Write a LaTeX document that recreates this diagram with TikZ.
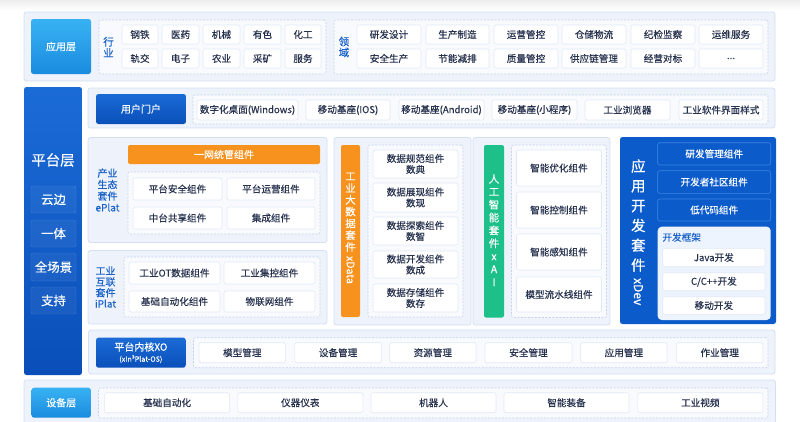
\documentclass[tikz,border=0pt]{standalone}
\usepackage{fontspec}
\setmainfont{Noto Sans CJK SC}[FakeBold=0.3]
\newfontfamily\heavyfont{Noto Sans CJK SC}[FakeBold=0.6]
\definecolor{panelfill}{HTML}{EEF3FB}
\definecolor{panelline}{HTML}{D3DFF3}
\definecolor{itemline}{HTML}{E1E9F6}
\definecolor{dashline}{HTML}{C6D3EA}
\definecolor{dashfill}{HTML}{F8FAFE}
\definecolor{txt}{HTML}{27324F}
\definecolor{lblue}{HTML}{1A62C9}
\definecolor{skyA}{HTML}{38B2F3}
\definecolor{skyB}{HTML}{1A8BDF}
\definecolor{navyA}{HTML}{1B6BD7}
\definecolor{navyB}{HTML}{0A4FB9}
\definecolor{orng}{HTML}{F7921E}
\definecolor{grn}{HTML}{1EC08A}
\definecolor{devblue}{HTML}{0C5BCB}
\definecolor{devline}{HTML}{3C84E5}
\definecolor{fwfill}{HTML}{EEF4FD}
\newcommand\bx[7]{\node[#6, minimum width={(#4)-(#2)}, minimum height={(#5)-(#3)}] (#1) at ({((#2)+(#4))/2},{((#3)+(#5))/2}) {#7};}
\newcommand\fs[2]{\fontsize{#1}{#2}\selectfont}
\tikzset{
  base/.style={inner sep=0pt, outer sep=0pt, align=center},
  panel/.style={base, draw=panelline, fill=panelfill, rounded corners=2.5pt, line width=0.8pt},
  dbox/.style={base, draw=dashline, fill=dashfill, dash pattern=on 2pt off 1.5pt, rounded corners=2pt, line width=0.6pt},
  item/.style={base, draw=itemline, fill=white, rounded corners=2pt, line width=0.6pt, text=txt, font=\fs{9.6}{11}},
  skybox/.style={base, rounded corners=2.5pt, top color=skyA, bottom color=skyB, text=white, font=\fs{10}{12}},
  navybox/.style={base, rounded corners=2.5pt, top color=navyA, bottom color=navyB, text=white, font=\fs{10}{12}},
  platcol/.style={base, rounded corners=2.5pt, top color=navyA, bottom color=navyB},
  platitem/.style={base, rounded corners=2pt, draw=white, draw opacity=0.18, fill=white, fill opacity=0.05, text opacity=1, text=white, font=\fs{12.4}{14}},
  lbl/.style={base, text=lblue, font=\fs{10.5}{11}},
  devitem/.style={base, rounded corners=2pt, draw=devline, fill=devblue, line width=0.6pt, text=white, font=\fs{9.6}{11}},
  vtext/.style={base, text=white},
}
\begin{document}
\begin{tikzpicture}[x=1pt, y=-1pt]
\useasboundingbox (0,0) rectangle (800,421);
\fill[top color=black!7, bottom color=white] (0,0) rectangle (800,10);
% ---------------- application layer
\bx{app}{24}{12}{775}{81}{panel}{}
\bx{appT}{31}{19}{91}{74}{skybox}{应用层}
\bx{indD}{99}{20}{326}{74}{dbox}{}
\node[lbl] (indL) at (108.5,47) {行\\业};
\bx{i1}{122}{25}{158}{44}{item}{钢铁}
\bx{i2}{162}{25}{199}{44}{item}{医药}
\bx{i3}{203}{25}{240}{44}{item}{机械}
\bx{i4}{244}{25}{281}{44}{item}{有色}
\bx{i5}{285}{25}{321}{44}{item}{化工}
\bx{i6}{122}{49}{158}{68}{item}{轨交}
\bx{i7}{162}{49}{199}{68}{item}{电子}
\bx{i8}{203}{49}{240}{68}{item}{农业}
\bx{i9}{244}{49}{281}{68}{item}{采矿}
\bx{i10}{285}{49}{321}{68}{item}{服务}
\bx{domD}{334}{20}{768}{74}{dbox}{}
\node[lbl] (domL) at (344,47) {领\\域};
\bx{d1}{357}{25}{421}{44}{item}{研发设计}
\bx{d2}{426}{25}{489}{44}{item}{生产制造}
\bx{d3}{494}{25}{558}{44}{item}{运营管控}
\bx{d4}{562}{25}{626}{44}{item}{仓储物流}
\bx{d5}{631}{25}{695}{44}{item}{纪检监察}
\bx{d6}{699}{25}{763}{44}{item}{运维服务}
\bx{d7}{357}{49}{421}{68}{item}{安全生产}
\bx{d8}{426}{49}{489}{68}{item}{节能减排}
\bx{d9}{494}{49}{558}{68}{item}{质量管控}
\bx{d10}{562}{49}{626}{68}{item}{供应链管理}
\bx{d11}{631}{49}{695}{68}{item}{经营对标}
\bx{d12}{699}{49}{763}{68}{item}{...}
% ---------------- platform column
\bx{plat}{24}{87}{82}{375}{platcol}{}
\node[vtext, font=\fs{14.4}{16}] (platT) at (53,160) {平台层};
\bx{p1}{31}{186}{76}{213}{platitem}{云边}
\bx{p2}{31}{220}{76}{247}{platitem}{一体}
\bx{p3}{31}{253}{76}{281}{platitem}{全场景}
\bx{p4}{31}{287}{76}{314}{platitem}{支持}
% ---------------- user portal
\bx{upP}{88}{88}{775}{128}{panel}{}
\bx{upT}{96}{94}{186}{124}{navybox}{用户门户}
\bx{upD}{193}{95}{768}{124}{dbox}{}
\bx{u1}{197}{100}{298}{120}{item}{数字化桌面(Windows)}
\bx{u2}{306}{100}{390}{120}{item}{移动基座(IOS)}
\bx{u3}{399}{100}{484}{120}{item}{移动基座(Android)}
\bx{u4}{492}{100}{577}{120}{item}{移动基座(小程序)}
\bx{u5}{585}{100}{670}{120}{item}{工业浏览器}
\bx{u6}{679}{100}{763}{120}{item}{工业软件界面样式}
% ---------------- ePlat
\bx{eP}{88}{137.5}{327}{242.5}{panel}{}
\node[lbl, font=\fs{10}{11.5}] (eL) at (107.5,190) {产业\\生态\\套件\\ePlat};
\bx{eBar}{128}{145}{320}{164}{base, rounded corners=2pt, fill=orng, text=white, font=\fs{10}{12}}{一网统管组件}
\bx{eD}{128}{172}{320}{234}{dbox}{}
\bx{e1}{133}{178}{222}{200}{item}{平台安全组件}
\bx{e2}{227}{178}{315}{200}{item}{平台运营组件}
\bx{e3}{133}{207}{222}{229}{item}{中台共享组件}
\bx{e4}{227}{207}{315}{229}{item}{集成组件}
% ---------------- iPlat
\bx{iP}{88}{250.5}{327}{324}{panel}{}
\node[lbl, font=\fs{10}{11}] (iL) at (105.5,287) {工业\\互联\\套件\\iPlat};
\bx{iD}{124}{257}{320}{317}{dbox}{}
\bx{ip1}{129}{262}{220}{284}{item}{工业OT数据组件}
\bx{ip2}{224}{262}{315}{284}{item}{工业集控组件}
\bx{ip3}{129}{291}{220}{312}{item}{基础自动化组件}
\bx{ip4}{224}{291}{315}{312}{item}{物联网组件}
% ---------------- xData
\bx{xdP}{334}{137.5}{471}{325}{panel}{}
\bx{xdBar}{341}{145}{360}{317}{base, rounded corners=2pt, fill=orng}{}
\node[vtext, font=\fs{10.5}{11.8}] (xdT) at (350.5,212.2) {工\\业\\大\\数\\据\\套\\件};
\node[vtext, font=\fs{10.5}{12}, rotate=-90] (xdN) at (350.5,270) {xData};
\bx{xdD}{368}{145}{463}{317}{dbox}{}
\bx{xd1}{373}{150}{458}{178}{item}{数据规范组件\\数典}
\bx{xd2}{373}{183}{458}{212}{item}{数据展现组件\\数现}
\bx{xd3}{373}{217}{458}{245}{item}{数据探索组件\\数智}
\bx{xd4}{373}{251}{458}{278}{item}{数据开发组件\\数成}
\bx{xd5}{373}{284}{458}{312}{item}{数据存储组件\\数存}
% ---------------- xAI
\bx{xaP}{473}{137.5}{610}{325}{panel}{}
\bx{xaBar}{484}{145}{504}{317.5}{base, rounded corners=2pt, fill=grn}{}
\node[vtext, font=\fs{10.5}{12.9}] (xaT) at (494,230) {人\\工\\智\\能\\套\\件\\x\\A\\I};
\bx{xaD}{511.5}{145}{606.5}{317.5}{dbox}{}
\bx{xa1}{516.5}{150}{601.5}{186}{item}{智能优化组件}
\bx{xa2}{516.5}{192}{601.5}{228}{item}{智能控制组件}
\bx{xa3}{516.5}{234}{601.5}{270}{item}{智能感知组件}
\bx{xa4}{516.5}{277}{601.5}{312}{item}{模型流水线组件}
% ---------------- xDev
\bx{xvP}{620}{137}{776}{324}{base, rounded corners=2.5pt, fill=devblue}{}
\node[vtext, font=\heavyfont\fs{14.5}{19.8}] (xvT) at (638.3,215.5) {应\\用\\开\\发\\套\\件};
\node[vtext, font=\heavyfont\fs{12}{14}, rotate=-90] (xvN) at (638.3,291.7) {xDev};
\bx{xv1}{657.7}{142.7}{770.7}{165}{devitem}{研发管理组件}
\bx{xv2}{657.7}{170.7}{770.7}{193.3}{devitem}{开发者社区组件}
\bx{xv3}{657.7}{199}{770.7}{221}{devitem}{低代码组件}
\bx{fw}{657.7}{226.7}{770.7}{320}{base, rounded corners=4pt, fill=fwfill}{}
\node[base, anchor=west, text=lblue, font=\fs{9.6}{11}] (fwL) at (662.5,237.3) {开发框架};
\bx{fw1}{662.7}{248.3}{765}{266.7}{item}{Java开发}
\bx{fw2}{662.7}{272.7}{765}{290.7}{item}{C/C++开发}
\bx{fw3}{662.7}{296.7}{765}{314.3}{item}{移动开发}
% ---------------- kernel XO
\bx{xoP}{88.5}{330}{775}{374}{panel}{}
\bx{xoT}{96}{337.7}{185.7}{367.7}{navybox}{平台内核XO\\[-1pt]{\fs{7.2}{8}(xIn³Plat-OS)}}
\bx{xoD}{193.5}{337.7}{768}{367.7}{dbox}{}
\bx{k1}{199}{342.7}{285.6}{362.7}{item}{模型管理}
\bx{k2}{294.8}{342.7}{381.4}{362.7}{item}{设备管理}
\bx{k3}{389.6}{342.7}{476}{362.7}{item}{资源管理}
\bx{k4}{485}{342.7}{572}{362.7}{item}{安全管理}
\bx{k5}{580.7}{342.7}{667}{362.7}{item}{应用管理}
\bx{k6}{676.4}{342.7}{763}{362.7}{item}{作业管理}
% ---------------- device layer
\bx{devP}{24}{380}{775.5}{424}{panel}{}
\bx{devT}{31.6}{387.7}{90.8}{417.7}{skybox}{设备层}
\bx{devD}{98.5}{388}{768}{418}{dbox}{}
\bx{v1}{104.6}{392.7}{229.6}{412.7}{item}{基础自动化}
\bx{v2}{237.8}{392.7}{362.8}{412.7}{item}{仪器仪表}
\bx{v3}{371}{392.7}{496}{412.7}{item}{机器人}
\bx{v4}{504}{392.7}{629}{412.7}{item}{智能装备}
\bx{v5}{637.8}{392.7}{762.8}{412.7}{item}{工业视频}
\end{tikzpicture}
\end{document}
